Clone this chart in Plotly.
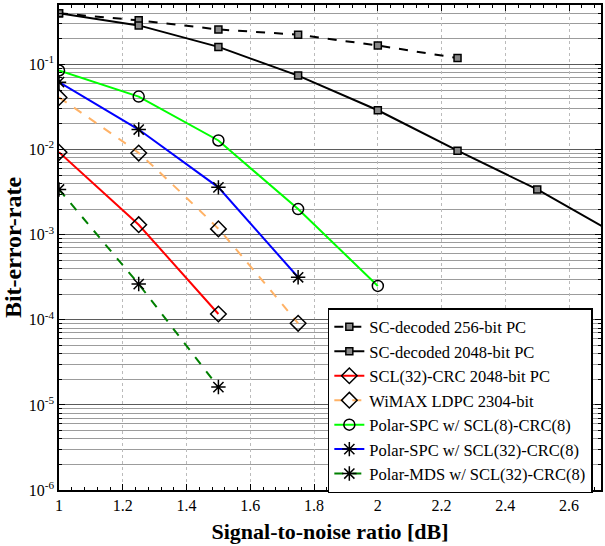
import plotly.graph_objects as go

snr = [1.0, 1.25, 1.5, 1.75, 2.0, 2.25, 2.5, 2.75]

sc256_x = snr[:6]
sc256_y = [0.40, 0.33, 0.258, 0.224, 0.167, 0.119]

sc2048_x = snr
sc2048_y = [0.40, 0.288, 0.161, 0.074, 0.029, 0.0097, 0.0034, 0.0010]

scl32_x = snr[:3]
scl32_y = [0.0093, 0.00131, 0.000117]

wimax_x = snr[:4]
wimax_y = [0.041, 0.0091, 0.00117, 0.000091]

spc8_x = snr[:5]
spc8_y = [0.085, 0.042, 0.0128, 0.0020, 0.00025]

spc32_x = snr[:4]
spc32_y = [0.062, 0.0172, 0.0036, 0.000316]

mds32_x = snr[:3]
mds32_y = [0.0034, 0.000263, 0.0000162]

names = [
    "SC-decoded 256-bit PC",
    "SC-decoded 2048-bit PC",
    "SCL(32)-CRC 2048-bit PC",
    "WiMAX LDPC 2304-bit",
    "Polar-SPC w/ SCL(8)-CRC(8)",
    "Polar-SPC w/ SCL(32)-CRC(8)",
    "Polar-MDS w/ SCL(32)-CRC(8)",
]

ytick_vals = [1e-6, 1e-5, 1e-4, 1e-3, 1e-2, 1e-1]
ytick_text = ["10<sup>-6</sup>", "10<sup>-5</sup>", "10<sup>-4</sup>",
              "10<sup>-3</sup>", "10<sup>-2</sup>", "10<sup>-1</sup>"]

SERIF = "Liberation Serif, Times New Roman, DejaVu Serif, serif"

series = [
    (sc256_x, sc256_y, "black", "dash", "square", 7, "linear", "#888888"),
    (sc2048_x, sc2048_y, "black", "solid", "square", 7, "linear", "#888888"),
    (scl32_x, scl32_y, "#ff0000", "solid", "diamond-open", 12, "linear", None),
    (wimax_x, wimax_y, "#ffb266", "dash", "diamond-open", 12, "spline", None),
    (spc8_x, spc8_y, "#00ff00", "solid", "circle-open", 11, "linear", None),
    (spc32_x, spc32_y, "#0000ff", "solid", "asterisk-open", 12, "linear", None),
    (mds32_x, mds32_y, "#008000", "dash", "asterisk-open", 12, "linear", None),
]

fig = go.Figure()
for (x, y, col, dash, sym, size, shape, fill), nm in zip(series, names):
    marker = dict(symbol=sym, size=size, color=fill if fill else "black",
                  line=dict(color="black", width=1.5))
    fig.add_trace(go.Scatter(
        x=x, y=y, name=nm, mode="lines+markers",
        line=dict(color=col, width=2, dash=dash, shape=shape, smoothing=0.3),
        marker=marker, cliponaxis=True,
    ))

fig.update_xaxes(
    range=[1, 2.7], dtick=0.2, tick0=1, ticks="inside", ticklen=6,
    mirror="allticks", showline=True, linecolor="black", linewidth=1.5,
    showgrid=True, gridcolor="#bbbbbb", griddash="dot", gridwidth=1,
    tickfont=dict(family=SERIF, size=16, color="black"),
    minor=dict(dtick=0.04, tick0=1, ticks="inside", ticklen=3, showgrid=False,
               tickcolor="black"),
    tickcolor="black", zeroline=False,
    title=dict(text="<b>Signal-to-noise ratio [dB]</b>",
               font=dict(family=SERIF, size=22, color="black"),
               standoff=11),
)
fig.update_yaxes(
    type="log", range=[-6, -0.301], tickvals=ytick_vals, ticktext=ytick_text,
    ticks="inside", ticklen=6, mirror="allticks", showline=True,
    linecolor="black", linewidth=1.5, tickcolor="black",
    showgrid=True, gridcolor="rgba(70,70,70,0.75)", gridwidth=1,
    tickfont=dict(family=SERIF, size=16, color="black"),
    minor=dict(dtick="D1", ticks="inside", ticklen=3, showgrid=True,
               gridcolor="rgba(90,90,90,0.6)", gridwidth=1, tickcolor="black"),
    zeroline=False,
    title=dict(text="<b>Bit-error-rate</b>",
               font=dict(family=SERIF, size=24, color="black"),
               standoff=6),
)

fig.update_layout(
    width=605, height=546, autosize=False,
    margin=dict(l=59, r=2, t=5, b=56),
    plot_bgcolor="white", paper_bgcolor="white",
    font=dict(family=SERIF, color="black"),
    legend=dict(
        x=0.496, y=0.375, xanchor="left", yanchor="top",
        bgcolor="white", bordercolor="black", borderwidth=1.5,
        font=dict(family=SERIF, size=16.5, color="black"),
        tracegroupgap=0, itemwidth=30,
    ),
    showlegend=True,
)

post = ("document.body.style.margin='0';"
        "document.body.style.padding='0';"
        "document.body.style.overflow='hidden';"
        "var gd=document.getElementById('{plot_id}');"
        "Plotly.relayout(gd,{width:605,height:546});")

fig.write_html("out.html", post_script=post,
               config={"displayModeBar": False})
